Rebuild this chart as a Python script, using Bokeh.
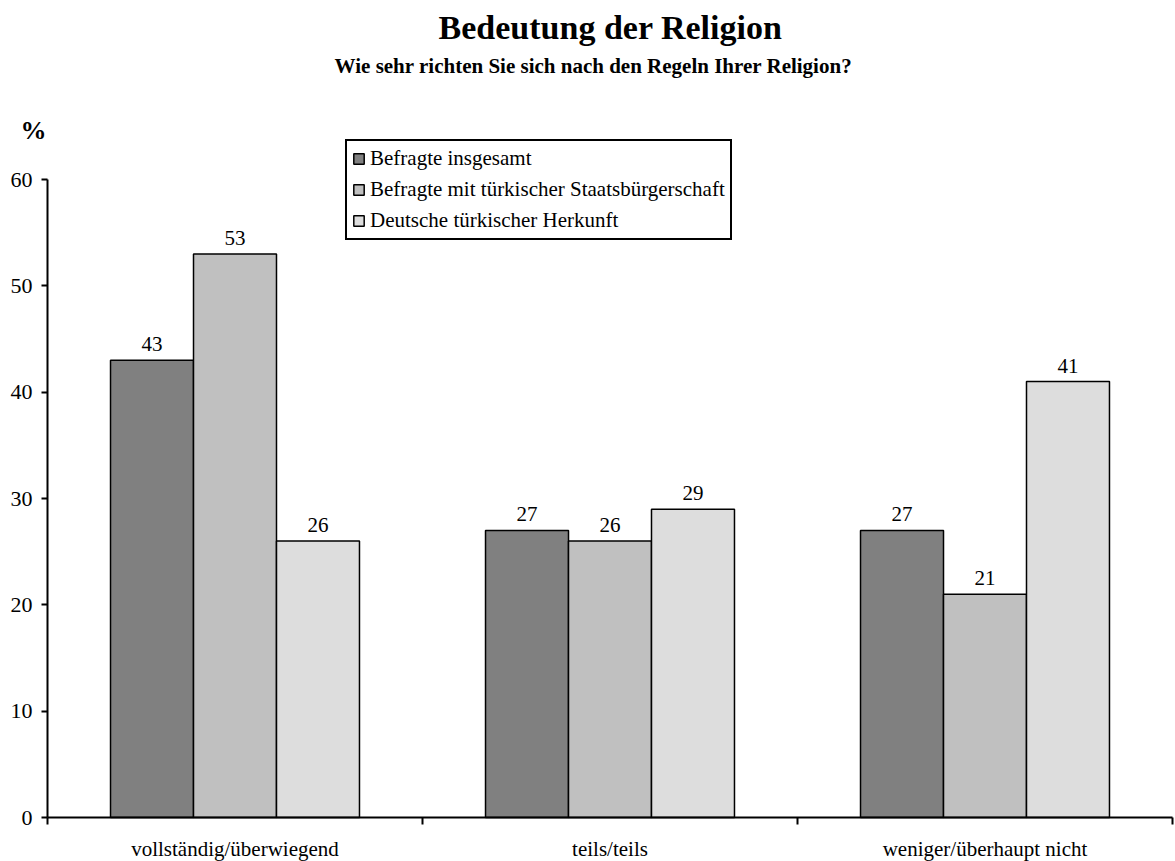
from bokeh.plotting import figure
from bokeh.models import (FixedTicker, Label, Legend, LegendItem, ColumnDataSource)
from bokeh.transform import dodge
from bokeh.core.properties import value
from bokeh.embed import file_html
from bokeh.resources import INLINE

categories = ["vollständig/überwiegend", "teils/teils", "weniger/überhaupt nicht"]
series_names = ["Befragte insgesamt",
                "Befragte mit türkischer Staatsbürgerschaft",
                "Deutsche türkischer Herkunft"]
insgesamt = [43, 27, 27]
staatsbuerger = [53, 26, 21]
deutsche = [26, 29, 41]
colors = ["#808080", "#C0C0C0", "#DDDDDD"]
y_ticks = [0, 10, 20, 30, 40, 50, 60]

FONT = "Liberation Serif"
centers = [i + 0.5 for i in range(len(categories))]

W, H = 1175, 861
AXIS_Y = 817           # pixel row of the value 0
px_per_unit = (817 - 179) / 60.0
y_top = AXIS_Y / px_per_unit
y_bottom = -(H - AXIS_Y) / px_per_unit
cat_px = 375.0
x_start = -47 / cat_px
x_end = (W - 47) / cat_px

p = figure(width=W, height=H, x_range=(x_start, x_end), y_range=(y_bottom, y_top),
           output_backend="svg", toolbar_location=None,
           min_border_left=0, min_border_right=0, min_border_top=0, min_border_bottom=0)
p.outline_line_color = None
p.xgrid.grid_line_color = None
p.ygrid.grid_line_color = None
p.background_fill_color = "white"
p.border_fill_color = "white"

src = ColumnDataSource(data=dict(x=centers, a=insgesamt, b=staatsbuerger, c=deutsche,
                                 la=[str(v) for v in insgesamt],
                                 lb=[str(v) for v in staatsbuerger],
                                 lc=[str(v) for v in deutsche]))
bw = 0.2213
renderers = []
for col, lab, off, colr in [("a", "la", -bw, colors[0]), ("b", "lb", 0, colors[1]), ("c", "lc", bw, colors[2])]:
    r = p.vbar(x=dodge("x", off), top=col, width=bw, bottom=0, source=src,
               fill_color=colr, line_color="black", line_width=1.5)
    renderers.append(r)
    p.text(x=dodge("x", off), y=col, text=lab, source=src, text_align="center",
           text_baseline="bottom", y_offset=-9, text_font=value(FONT),
           text_font_size="21px", text_color="black")

# axes
p.xaxis.ticker = FixedTicker(ticks=centers, minor_ticks=[0, 1, 2, 3])
p.xaxis.major_label_overrides = {c: categories[i] for i, c in enumerate(centers)}
p.xaxis.fixed_location = 0
p.xaxis.bounds = (0, 3)
p.xaxis.major_tick_out = 0
p.xaxis.major_tick_in = 0
p.xaxis.minor_tick_out = 7
p.xaxis.minor_tick_in = 0
p.xaxis.minor_tick_line_width = 2
p.xaxis.axis_line_width = 2
p.xaxis.major_label_standoff = 12
p.xaxis.major_label_text_font = FONT
p.xaxis.major_label_text_font_size = "21px"
p.xaxis.major_label_text_color = "black"

p.yaxis.ticker = FixedTicker(ticks=y_ticks, minor_ticks=[])
p.yaxis.fixed_location = 0
p.yaxis.bounds = (0, 60)
p.yaxis.major_tick_out = 6
p.yaxis.major_tick_in = 0
p.yaxis.major_tick_line_width = 2
p.yaxis.axis_line_width = 2
p.yaxis.major_label_standoff = 9
p.yaxis.major_label_text_font = FONT
p.yaxis.major_label_text_font_size = "22px"
p.yaxis.major_label_text_color = "black"

# titles
p.add_layout(Label(x=(610 - 47) / cat_px, y=(AXIS_Y - 27) / px_per_unit, text="Bedeutung der Religion",
                   text_align="center", text_baseline="middle", text_font=FONT, text_font_size="34px",
                   text_font_style="bold", text_color="black"))
p.add_layout(Label(x=(593 - 47) / cat_px, y=(AXIS_Y - 65) / px_per_unit,
                   text="Wie sehr richten Sie sich nach den Regeln Ihrer Religion?",
                   text_align="center", text_baseline="middle", text_font=FONT,
                   text_font_size="21px", text_font_style="bold", text_color="black"))
p.add_layout(Label(x=(33 - 47) / cat_px, y=(AXIS_Y - 130) / px_per_unit, text="%", text_align="center",
                   text_baseline="middle", text_font=FONT, text_font_size="26px",
                   text_font_style="bold", text_color="black"))

legend = Legend(items=[LegendItem(label=series_names[i], renderers=[renderers[i]]) for i in range(3)],
                location=(345, H - 240), orientation="vertical")
legend.label_text_font = FONT
legend.label_text_font_size = "21px"
legend.label_text_color = "black"
legend.glyph_width = 13
legend.glyph_height = 13
legend.label_standoff = 5
legend.label_height = 25
legend.spacing = 6
legend.padding = 5
legend.margin = 0
legend.border_line_color = "black"
legend.border_line_alpha = 1.0
legend.border_line_width = 2
legend.background_fill_color = "white"
legend.background_fill_alpha = 1
p.add_layout(legend, "center")

open("out.html", "w").write(file_html(p, INLINE))
